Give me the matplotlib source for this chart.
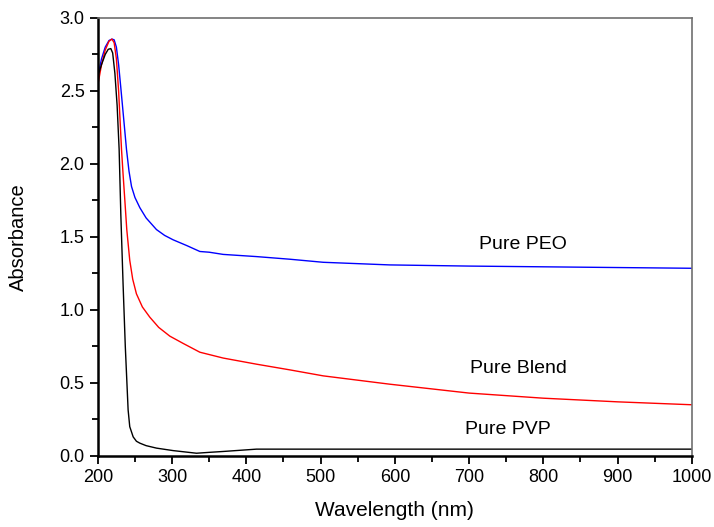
import numpy as np
import matplotlib.pyplot as plt
from matplotlib.ticker import MultipleLocator

plt.rcParams['font.family'] = ['Liberation Sans', 'DejaVu Sans']

peo_wl = [200, 205, 210, 215, 219, 222, 225, 228, 231, 235, 238.6, 242, 245.4, 250, 256.6, 265,
          279, 290, 301.4, 320, 337.4, 350, 368.8, 413.7, 458.6, 503.5, 593, 700, 800, 900, 1000]
peo_abs = [2.60, 2.72, 2.80, 2.845, 2.855, 2.85, 2.80, 2.68, 2.52, 2.30, 2.10, 1.95, 1.845, 1.77,
           1.70, 1.63, 1.55, 1.51, 1.48, 1.44, 1.40, 1.395, 1.38, 1.365, 1.347, 1.326, 1.308,
           1.300, 1.295, 1.29, 1.285]

blend_wl = [200, 205, 210, 215, 219, 222, 225, 228, 231.9, 234, 236.4, 239, 243, 247, 252, 260,
            270, 282, 297, 315, 337.4, 368.8, 413.7, 458.6, 503.5, 593, 700, 800, 900, 1000]
blend_abs = [2.54, 2.68, 2.78, 2.84, 2.855, 2.83, 2.72, 2.50, 2.10, 1.93, 1.75, 1.55, 1.34, 1.21,
             1.11, 1.02, 0.95, 0.88, 0.82, 0.77, 0.71, 0.67, 0.628, 0.589, 0.548, 0.491, 0.43,
             0.395, 0.37, 0.35]

pvp_wl = [200, 205, 210, 214, 217.5, 220, 223, 226, 228.7, 231, 234, 237, 240.8, 243, 247.6,
          252, 256.6, 265, 279, 301.4, 332.9, 350, 368.8, 413.7, 600, 800, 1000]
pvp_abs = [2.60, 2.68, 2.75, 2.785, 2.79, 2.76, 2.62, 2.40, 2.10, 1.65, 1.18, 0.75, 0.315, 0.20,
           0.13, 0.10, 0.087, 0.07, 0.053, 0.036, 0.018, 0.024, 0.03, 0.046, 0.046, 0.046, 0.046]

fig = plt.figure(figsize=(7.14, 5.27), dpi=100)
ax = fig.add_axes([0.137, 0.135, 0.832, 0.831])

ax.plot(peo_wl, peo_abs, color='blue', lw=1)
ax.plot(blend_wl, blend_abs, color='red', lw=1)
ax.plot(pvp_wl, pvp_abs, color='black', lw=1)

ax.text(772, 1.445, 'Pure PEO', fontsize=14, ha='center', va='center')
ax.text(766, 0.60, 'Pure Blend', fontsize=14, ha='center', va='center')
ax.text(752, 0.178, 'Pure PVP', fontsize=14, ha='center', va='center')

ax.set_xlim(200, 1000)
ax.set_ylim(0, 3.0)
ax.xaxis.set_major_locator(MultipleLocator(100))
ax.xaxis.set_minor_locator(MultipleLocator(50))
ax.yaxis.set_major_locator(MultipleLocator(0.5))
ax.yaxis.set_minor_locator(MultipleLocator(0.25))
ax.yaxis.set_major_formatter(plt.FormatStrFormatter('%.1f'))
ax.tick_params(which='major', direction='out', length=6, width=1.3, labelsize=13)
ax.tick_params(which='minor', direction='out', length=4, width=1.3)
ax.tick_params(top=False, right=False)

for s in ['left', 'bottom']:
    ax.spines[s].set_linewidth(1.8)
for s in ['top', 'right']:
    ax.spines[s].set_color('#707070')
    ax.spines[s].set_linewidth(1.2)

ax.set_xlabel('Wavelength (nm)', fontsize=15)
ax.set_ylabel('Absorbance', fontsize=14.5)
ax.xaxis.set_label_coords(0.5, -0.103)
ax.yaxis.set_label_coords(-0.118, 0.5)

fig.savefig('out.png', dpi=100)
